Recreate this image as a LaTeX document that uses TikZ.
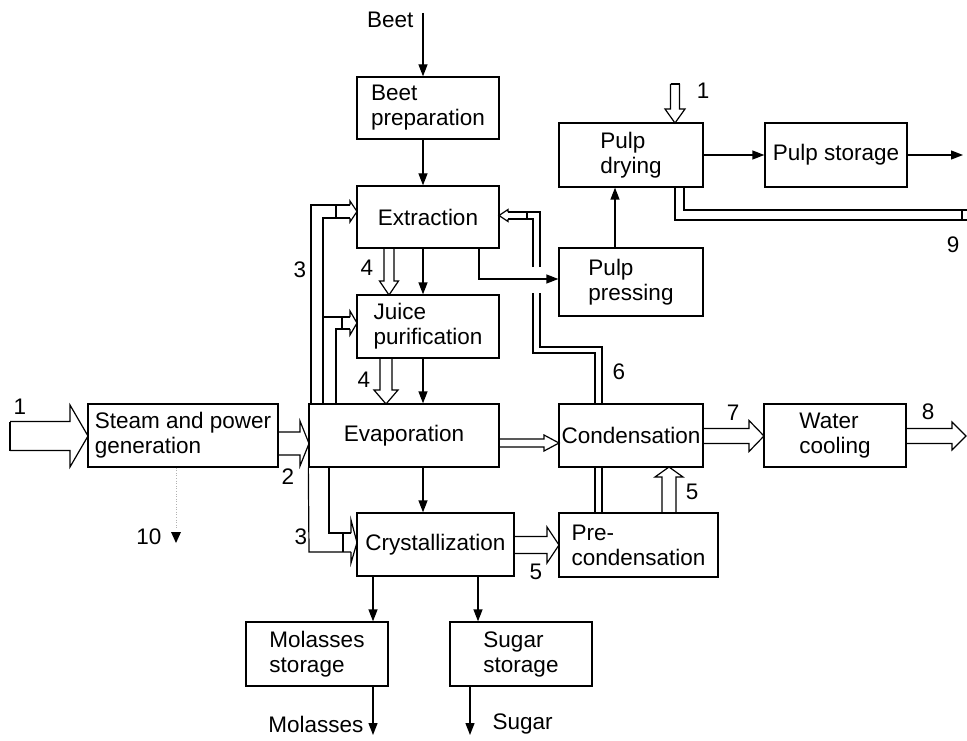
\documentclass[tikz,border=0pt]{standalone}
\usepackage{fontspec}
\setmainfont{Liberation Sans}
\usetikzlibrary{arrows.meta,calc}
\newcommand\hollowarrow[6][]{%
  \path ($(#3)!#6!(#2)$) coordinate (hb);
  \draw[hol,#1] ($(#2)!#4!90:(#3)$) -- ($(hb)!#4!90:(#3)$) -- ($(hb)!#5!90:(#3)$) -- (#3)
     -- ($(hb)!#5!-90:(#3)$) -- ($(hb)!#4!-90:(#3)$) -- ($(#2)!#4!-90:(#3)$);}
\begin{document}
\begin{tikzpicture}[x=1pt,y=-1pt, line width=1.3pt,
  box/.style={draw, line width=1.3pt, align=left, inner sep=0pt, font=\fontsize{22.5}{25}\selectfont},
  arr/.style={-{Triangle[length=12pt,width=9pt]}},
  hol/.style={line width=1.2pt, line join=miter},
  lab/.style={font=\fontsize{22.5}{25}\selectfont, inner sep=0pt}]
\useasboundingbox (0,0) rectangle (967,741);

% boxes
\node[box, minimum width=142pt, minimum height=62pt] (prep)    at (428,108)   {Beet\\preparation};
\node[box, minimum width=142pt, minimum height=62pt] (extr)    at (428,217)   {Extraction};
\node[box, minimum width=142pt, minimum height=63pt] (juice)   at (428,326.5) {Juice\\purification};
\node[box, minimum width=190pt, minimum height=63pt] (evap)    at (404,435.5) {Evaporation};
\node[box, minimum width=157pt, minimum height=63pt] (cryst)   at (435.5,544.5) {Crystallization};
\node[box, minimum width=190pt, minimum height=63pt] (steam)   at (183,435.5) {Steam and power\\generation};
\node[box, minimum width=144pt, minimum height=63pt] (cond)    at (631,435.5) {Condensation};
\node[box, minimum width=142pt, minimum height=63pt] (wcool)   at (835,435.5) {Water\\cooling};
\node[box, minimum width=159pt, minimum height=64pt] (precond) at (638.5,545) {Pre-\\condensation};
\node[box, minimum width=144pt, minimum height=64pt] (drying)  at (631,155)   {Pulp\\drying};
\node[box, minimum width=142pt, minimum height=64pt] (pstore)  at (836,155)   {Pulp storage};
\node[box, minimum width=144pt, minimum height=68pt] (press)   at (631,282)   {Pulp\\pressing};
\node[box, minimum width=142pt, minimum height=64pt] (mol)     at (317,654)   {Molasses\\storage};
\node[box, minimum width=142pt, minimum height=64pt] (sug)     at (521,654)   {Sugar\\storage};

% guide coordinates
\coordinate (beetsrc) at (423,13);
\coordinate (pp) at (479,279);
\coordinate (g615) at (615,0);
\coordinate (g373) at (373,0);
\coordinate (g478) at (478,0);
\coordinate (g470) at (470,0);
\coordinate (pout) at (963,155);
\coordinate (molout) at (373,735);
\coordinate (sugout) at (470,735);

% single arrows
\draw[arr] (beetsrc) -- (beetsrc |- prep.north);
\draw[arr] (prep.south -| beetsrc) -- (extr.north -| beetsrc);
\draw[arr] (extr.south -| beetsrc) -- (juice.north -| beetsrc);
\draw[arr] (juice.south -| beetsrc) -- (evap.north -| beetsrc);
\draw[arr] (evap.south -| beetsrc) -- (cryst.north -| beetsrc);
\draw[arr] (extr.south -| pp) |- (press.west |- pp);
\draw[arr] (press.north -| g615) -- (drying.south -| g615);
\draw[arr] (drying.east) -- (pstore.west);
\draw[arr] (pstore.east) -- (pout);
\draw[arr] (cryst.south -| g373) -- (mol.north -| g373);
\draw[arr] (cryst.south -| g478) -- (sug.north -| g478);
\draw[arr] (mol.south -| g373) -- (molout);
\draw[arr] (sug.south -| g470) -- (sugout);

% hollow arrows
\coordinate (s1a) at (10,436);  \coordinate (s1b) at (88,436);
\hollowarrow{s1a}{s1b}{14.5pt}{31pt}{18pt}
\draw[hol] (10,421.5) -- (10,450.5);
\coordinate (s2a) at (278,443.5); \coordinate (s2b) at (309,443.5);
\hollowarrow{s2a}{s2b}{11.5pt}{22.5pt}{9pt}
\coordinate (s4a) at (389,248); \coordinate (s4b) at (389,295);
\hollowarrow{s4a}{s4b}{5pt}{9.5pt}{14pt}
\coordinate (s4c) at (386,358); \coordinate (s4d) at (386,404);
\hollowarrow{s4c}{s4d}{6pt}{12pt}{14pt}
\coordinate (ec1) at (499,443); \coordinate (ec2) at (559,443);
\hollowarrow{ec1}{ec2}{4pt}{8pt}{15pt}
\coordinate (cp1) at (514,545); \coordinate (cp2) at (559,545);
\hollowarrow{cp1}{cp2}{8.5pt}{18pt}{12pt}
\coordinate (pc1) at (669,513); \coordinate (pc2) at (669,467);
\hollowarrow{pc1}{pc2}{7pt}{14pt}{10pt}
\coordinate (cw1) at (703,436); \coordinate (cw2) at (764,436);
\hollowarrow{cw1}{cw2}{7.5pt}{15.5pt}{15pt}
\coordinate (wo1) at (906,436); \coordinate (wo2) at (966,436);
\hollowarrow{wo1}{wo2}{7.5pt}{14pt}{14pt}
\coordinate (d1a) at (675,84); \coordinate (d1b) at (675,123);
\hollowarrow{d1a}{d1b}{4.5pt}{10pt}{14pt}
\draw[hol] (670.5,84) -- (679.5,84);

% line 3 feeds (upper)
\draw[hol] (evap.north -| 311,0) -- (311,205) -- (350,205);
\draw[hol] (323,404) -- (323,218) -- (350,218);
\draw[hol] (336,205) -- (336,218);
\draw[hol] (350,205) -- (350,201) -- (357,211.5) -- (350,222) -- (350,218);
\draw[hol] (323,317) -- (350,317);
\draw[hol] (336,404) -- (336,329) -- (350,329);
\draw[hol] (342,317) -- (342,329);
\draw[hol] (350,317) -- (350,311) -- (357,323) -- (350,335) -- (350,329);
% line 3 feed (lower)
\draw[hol] (evap.south west) -- (309,552) -- (351,552);
\draw[hol] (329,467) -- (329,533) -- (351,533);
\draw[hol] (343,533) -- (343,552);
\draw[hol] (351,533) -- (351,520) -- (357,542.5) -- (351,563) -- (351,552);

% line 6 (double line to extraction)
\draw[hol] (602,404) -- (602,347) -- (540,347) -- (540,293);
\draw[hol] (540,267) -- (540,212) -- (508,212);
\draw[hol] (595,404) -- (595,353) -- (533,353) -- (533,293);
\draw[hol] (533,267) -- (533,219) -- (508,219);
\draw[hol] (527,212) -- (527,219);
\draw[hol] (508,212) -- (508,209.5) -- (499,215.5) -- (508,221.5) -- (508,219);
\draw[hol] (595,467) -- (595,513);
\draw[hol] (602,467) -- (602,513);

% line 9
\draw[hol] (675,187) -- (675,220) -- (967,220);
\draw[hol] (684,187) -- (684,210) -- (967,210);
\draw[hol] (962,210) -- (962,220);

% line 10
\draw[line width=0.6pt, gray!60, dotted] (steam.south -| 176,0) -- (176,528);
\fill (171,532) -- (181,532) -- (176,543) -- cycle;

% labels
\node[lab, anchor=east] (beetlab) at (414,20) {Beet};
\node[lab, anchor=east] (mollab) at (364,724) {Molasses};
\node[lab, anchor=west] (suglab) at (492,724) {Sugar};
\node[lab] (l1a) at (20,407) {1};
\node[lab] (l2) at (288,477) {2};
\node[lab] (l3a) at (300,270) {3};
\node[lab] (l3b) at (301,537) {3};
\node[lab] (l4a) at (367,268) {4};
\node[lab] (l4b) at (364,380) {4};
\node[lab] (l5a) at (536,572) {5};
\node[lab] (l5b) at (692,492) {5};
\node[lab] (l6) at (619,372) {6};
\node[lab] (l7) at (733,413) {7};
\node[lab] (l8) at (928,412) {8};
\node[lab] (l9) at (953,245) {9};
\node[lab] (l1b) at (703,91) {1};
\node[lab] (l10) at (149,537) {10};
\end{tikzpicture}
\end{document}
